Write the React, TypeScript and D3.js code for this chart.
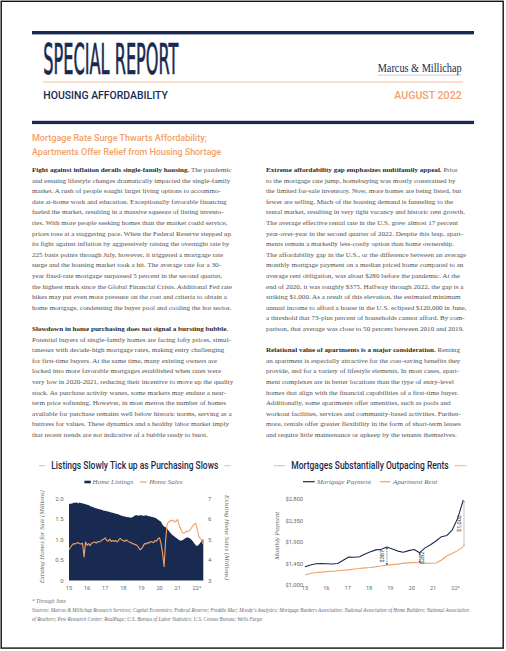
import React from "react";
import * as d3 from "d3";

const NAVY = "#182a50";
const ORANGE = "#f2a068";
const BODY = "#505050";
const BOLD = "#2a2a2a";
const GREY = "#6a6a6a";

// ---------- text content ----------
const headingLines = [
  "Mortgage Rate Surge Thwarts Affordability;",
  "Apartments Offer Relief from Housing Shortage",
];

const leftP1Bold = "Fight against inflation derails single-family housing.";
const leftP1 = [
  " The pandemic",
  "and ensuing lifestyle changes dramatically impacted the single-family",
  "market. A rush of people sought larger living options to accommo-",
  "date at-home work and education. Exceptionally favorable financing",
  "fueled the market, resulting in a massive squeeze of listing invento-",
  "ries. With more people seeking homes than the market could service,",
  "prices rose at a staggering pace. When the Federal Reserve stepped up",
  "its fight against inflation by aggressively raising the overnight rate by",
  "225 basis points through July, however, it triggered a mortgage rate",
  "surge and the housing market took a hit. The average rate for a 30-",
  "year fixed-rate mortgage surpassed 5 percent in the second quarter,",
  "the highest mark since the Global Financial Crisis. Additional Fed rate",
  "hikes may put even more pressure on the cost and criteria to obtain a",
  "home mortgage, condensing the buyer pool and cooling the hot sector.",
];
const leftP2Bold = "Slowdown in home purchasing does not signal a bursting bubble.";
const leftP2 = [
  "",
  "Potential buyers of single-family homes are facing lofty prices, simul-",
  "taneous with decade-high mortgage rates, making entry challenging",
  "for first-time buyers. At the same time, many existing owners are",
  "locked into more favorable mortgages established when rates were",
  "very low in 2020-2021, reducing their incentive to move up the quality",
  "stack. As purchase activity wanes, some markets may endure a near-",
  "term price softening. However, in most metros the number of homes",
  "available for purchase remains well below historic norms, serving as a",
  "buttress for values. These dynamics and a healthy labor market imply",
  "that recent trends are not indicative of a bubble ready to burst.",
];
const rightP1Bold = "Extreme affordability gap emphasizes multifamily appeal.";
const rightP1 = [
  " Prior",
  "to the mortgage rate jump, homebuying was mostly constrained by",
  "the limited for-sale inventory. Now, more homes are being listed, but",
  "fewer are selling. Much of the housing demand is funneling to the",
  "rental market, resulting in very tight vacancy and historic rent growth.",
  "The average effective rental rate in the U.S. grew almost 17 percent",
  "year-over-year in the second quarter of 2022. Despite this leap, apart-",
  "ments remain a markedly less-costly option than home ownership.",
  "The affordability gap in the U.S., or the difference between an average",
  "monthly mortgage payment on a median priced home compared to an",
  "average rent obligation, was about $280 before the pandemic. At the",
  "end of 2020, it was roughly $375. Halfway through 2022, the gap is a",
  "striking $1,000. As a result of this elevation, the estimated minimum",
  "annual income to afford a house in the U.S. eclipsed $120,000 in June,",
  "a threshold that 73-plus percent of households cannot afford. By com-",
  "parison, that average was close to 50 percent between 2010 and 2019.",
];
const rightP2Bold = "Relational value of apartments is a major consideration.";
const rightP2 = [
  " Renting",
  "an apartment is especially attractive for the cost-saving benefits they",
  "provide, and for a variety of lifestyle elements. In most cases, apart-",
  "ment complexes are in better locations than the type of entry-level",
  "homes that align with the financial capabilities of a first-time buyer.",
  "Additionally, some apartments offer amenities, such as pools and",
  "workout facilities, services and community-based activities. Further-",
  "more, rentals offer greater flexibility in the form of short-term leases",
  "and require little maintenance or upkeep by the tenants themselves.",
];

const footnotes = [
  "* Through June",
  "Sources: Marcus & Millichap Research Services; Capital Economics; Federal Reserve; Freddie Mac; Moody's Analytics; Mortgage Bankers Association; National Association of Home Builders; National Association",
  "of Realtors; Pew Research Center; RealPage; U.S. Bureau of Labor Statistics; U.S. Census Bureau; Wells Fargo",
];

// ---------- chart 1 data (monthly, Jan 2015 - Jun 2022) ----------
const yearLabels = ["15", "16", "17", "18", "19", "20", "21", "22*"];
const homeListings = [
  1.86, 1.88, 1.87, 1.9, 1.89, 1.91, 1.88, 1.9, 1.89, 1.88, 1.87, 1.86,
  1.85, 1.84, 1.82, 1.8, 1.79, 1.77, 1.76, 1.75, 1.74, 1.73, 1.72, 1.7,
  1.7, 1.69, 1.68, 1.67, 1.66, 1.65, 1.64, 1.63, 1.62, 1.61, 1.59, 1.58,
  1.57, 1.56, 1.55, 1.54, 1.54, 1.53, 1.54, 1.57, 1.59, 1.59, 1.58, 1.59,
  1.59, 1.58, 1.58, 1.59, 1.58, 1.57, 1.56, 1.55, 1.54, 1.53, 1.51, 1.48,
  1.46, 1.43, 1.36, 1.32, 1.3, 1.27, 1.22, 1.17, 1.13, 1.1, 1.07, 1.04,
  1.01, 0.99, 0.97, 0.98, 1.0, 1.03, 1.05, 1.05, 1.03, 1.0, 0.96, 0.91,
  0.86, 0.84, 0.87, 0.92, 0.97, 1.02,
];
const homeSales = [
  4.5, 4.62, 4.72, 4.8, 4.78, 4.82, 4.85, 4.8, 4.78, 4.82, 4.15, 4.88,
  4.72, 4.8, 4.7, 4.82, 4.85, 4.88, 4.82, 4.9, 4.88, 4.92, 4.98, 5.02,
  5.08, 4.95, 4.92, 5.02, 4.9, 4.95, 4.9, 4.95, 4.88, 4.98, 5.05, 4.98,
  4.95, 4.9, 4.98, 4.92, 4.88, 4.85, 4.8, 4.78, 4.75, 4.72, 4.62, 4.5,
  4.55, 4.65, 4.8, 4.78, 4.85, 4.82, 4.9, 4.88, 4.85, 4.95, 4.92, 5.05,
  5.08, 4.8, 4.35, 3.67, 4.9, 5.75, 5.85, 5.92, 5.9, 5.95, 5.85, 5.9,
  5.98, 5.7, 5.5, 5.35, 5.3, 5.35, 5.4, 5.38, 5.45, 5.55, 5.65, 5.75,
  5.8, 5.5, 5.15, 5.05, 4.95, 4.75,
];
const listingTicks = [0, 0.5, 1, 1.5, 2];
const salesTicks = [3, 4, 5, 6, 7];

// ---------- chart 2 data (quarterly, 2015Q1 - 2022Q2) ----------
const quarters = [
  "15Q1", "15Q2", "15Q3", "15Q4", "16Q1", "16Q2", "16Q3", "16Q4",
  "17Q1", "17Q2", "17Q3", "17Q4", "18Q1", "18Q2", "18Q3", "18Q4",
  "19Q1", "19Q2", "19Q3", "19Q4", "20Q1", "20Q2", "20Q3", "20Q4",
  "21Q1", "21Q2", "21Q3", "21Q4", "22Q1", "22Q2",
];
const mortgagePayment = [
  1385, 1420, 1445, 1448, 1445, 1442, 1450, 1520, 1588, 1582, 1592, 1650,
  1700, 1738, 1752, 1798, 1758, 1712, 1688, 1722, 1745, 1679, 1780, 1845,
  1925, 2015, 2040, 2160, 2410, 2785,
];
const apartmentRent = [
  1210, 1240, 1262, 1270, 1280, 1290, 1300, 1310, 1318, 1335, 1345, 1360,
  1368, 1385, 1398, 1418, 1428, 1438, 1460, 1465, 1470, 1466, 1460, 1456,
  1462, 1525, 1610, 1668, 1722, 1805,
];
const paymentTicks = [1000, 1450, 1900, 2350, 2800];
const gapNotes = [
  { q: "18Q4", label: "$387", side: "left" },
  { q: "20Q2", label: "$282", side: "right" },
  { q: "22Q2", label: "$1,002", side: "left" },
];

const SERIF = "'Liberation Serif', 'DejaVu Serif', serif";
const SANS = "Roboto, 'Liberation Sans', sans-serif";

function Para({ x, y0, idx0, bold, lines }: any) {
  const lh = 10.6;
  return (
    <g fontFamily={SERIF} fontSize={7.1} fill={BODY}>
      {lines.map((l: string, i: number) => (
        <text key={i} x={x} y={y0 + (idx0 + i) * lh}>
          {i === 0 ? (
            <>
              <tspan fontWeight="bold" fill={BOLD}>{bold}</tspan>
              {l ? <tspan>{l}</tspan> : null}
            </>
          ) : (
            l
          )}
        </text>
      ))}
    </g>
  );
}

function ChartTitle({ cx, y, text, len, x0, x1 }: any) {
  const gap = 6;
  return (
    <g>
      <line x1={x0} x2={cx - len / 2 - gap} y1={y} y2={y} stroke={ORANGE} strokeWidth={0.8} />
      <line x1={cx + len / 2 + gap} x2={x1} y1={y} y2={y} stroke={ORANGE} strokeWidth={0.8} />
      <text x={cx} y={y + 3.6} textAnchor="middle" fontFamily={SANS} fontWeight={500} fontSize={10}
        fill={NAVY} textLength={len} lengthAdjust="spacingAndGlyphs">{text}</text>
    </g>
  );
}

function ListingsChart() {
  const x = d3.scaleLinear().domain([0, homeListings.length - 1]).range([69, 203.3]);
  const yL = d3.scaleLinear().domain([0, 2]).range([580.5, 498.5]);
  const yS = d3.scaleLinear().domain([3, 7]).range([580.5, 498.5]);
  const area = d3.area<number>().x((_, i) => x(i)).y0(yL(0)).y1((d) => yL(d));
  const line = d3.line<number>().x((_, i) => x(i)).y((d) => yS(d));
  return (
    <g>
      <ChartTitle cx={134.8} y={465.7} text="Listings Slowly Tick up as Purchasing Slows" len={167} x0={39} x1={230.7} />
      <rect x={84.4} y={480.7} width={6.4} height={2.6} fill={NAVY} />
      <text x={92.6} y={484.4} fontFamily={SERIF} fontStyle="italic" fontSize={7} fill={GREY}>Home Listings</text>
      <line x1={140} x2={146.7} y1={482} y2={482} stroke={ORANGE} strokeWidth={1.2} />
      <text x={149.3} y={484.4} fontFamily={SERIF} fontStyle="italic" fontSize={7} fill={GREY}>Home Sales</text>
      <path d={area(homeListings) || ""} fill={NAVY} />
      <path d={line(homeSales) || ""} fill="none" stroke={ORANGE} strokeWidth={1.1} strokeLinejoin="round" />
      {listingTicks.map((t) => (
        <text key={t} x={63.5} y={yL(t) + 2.1} textAnchor="end" fontFamily={SANS} fontSize={6} fill={GREY}>
          {t === 0 ? "0" : t.toFixed(1)}
        </text>
      ))}
      {salesTicks.map((t) => (
        <text key={t} x={208} y={yS(t) + 2.1} fontFamily={SANS} fontSize={6} fill={GREY}>{t}</text>
      ))}
      {yearLabels.map((l, i) => (
        <text key={l} x={x(i * 12) + (l.length > 2 ? 1.2 : 0)} y={589.6} textAnchor="middle" fontFamily={SANS} fontSize={5.6} fill={GREY}>{l}</text>
      ))}
      <text transform="translate(43.8,536.7) rotate(-90)" textAnchor="middle" fontFamily={SERIF} fontStyle="italic"
        fontSize={7} fill={GREY} textLength={93} lengthAdjust="spacingAndGlyphs">Existing Homes for Sale (Millions)</text>
      <text transform="translate(224.5,537.5) rotate(90)" textAnchor="middle" fontFamily={SERIF} fontStyle="italic"
        fontSize={7} fill={GREY} textLength={85} lengthAdjust="spacingAndGlyphs">Existing Home Sales (Millions)</text>
    </g>
  );
}

function PaymentChart() {
  const x = d3.scalePoint<string>().domain(quarters).range([305, 463.3]);
  const xm = d3.scaleLinear().domain([0, 89]).range([305, 463.3]); // monthly positions for year labels
  const y = d3.scaleLinear().domain([1000, 2800]).range([585, 499.3]);
  const line = d3.line<number>().x((_, i) => x(quarters[i]) as number).y((d) => y(d));
  const fmt = d3.format("$,");
  return (
    <g>
      <ChartTitle cx={370} y={465.7} text="Mortgages Substantially Outpacing Rents" len={157.4} x0={273.7} x1={466.3} />
      <line x1={303} x2={314.7} y1={481.7} y2={481.7} stroke={NAVY} strokeWidth={1.2} />
      <text x={317} y={484.2} fontFamily={SERIF} fontStyle="italic" fontSize={7} fill={GREY}>Mortgage Payment</text>
      <line x1={379.7} x2={390.3} y1={481.7} y2={481.7} stroke={ORANGE} strokeWidth={1.2} />
      <text x={393} y={484.2} fontFamily={SERIF} fontStyle="italic" fontSize={7} fill={GREY}>Apartment Rent</text>
      {paymentTicks.map((t) => (
        <text key={t} x={303} y={y(t) + 2.1} textAnchor="end" fontFamily={SANS} fontSize={5.8} fill={GREY}>{fmt(t)}</text>
      ))}
      {yearLabels.map((l, i) => (
        <text key={l} x={xm(i * 12) + (l.length > 2 ? 1.2 : 0)} y={589.6} textAnchor="middle" fontFamily={SANS} fontSize={5.6} fill={GREY}>{l}</text>
      ))}
      <text transform="translate(279,535.8) rotate(-90)" textAnchor="middle" fontFamily={SERIF} fontStyle="italic"
        fontSize={7} fill={GREY} textLength={48} lengthAdjust="spacingAndGlyphs">Monthly Payment</text>
      <path d={line(apartmentRent) || ""} fill="none" stroke={ORANGE} strokeWidth={1.1} strokeLinejoin="round" />
      <path d={line(mortgagePayment) || ""} fill="none" stroke={NAVY} strokeWidth={1.1} strokeLinejoin="round" />
      {gapNotes.map((g, k) => {
        const i = quarters.indexOf(g.q);
        const xx = (x(g.q) as number) + (k === 2 ? 0.7 : 0);
        const y1 = y(mortgagePayment[i]) + 1.5;
        const y2 = y(apartmentRent[i]) - 1.2;
        const last = k === 2;
        const col = last ? "#9a9a9a" : "#333";
        const tx = g.side === "left" ? xx - 3.2 : xx + 4.6;
        return (
          <g key={g.q}>
            <line x1={xx} x2={xx} y1={y1} y2={y2} stroke={col} strokeWidth={0.6} strokeDasharray={last ? "none" : "1.4,1"} />
            <circle cx={xx} cy={y1} r={0.8} fill={col} />
            <circle cx={xx} cy={y2} r={0.8} fill={col} />
            <text transform={`translate(${tx},${(y1 + y2) / 2}) rotate(-90)`} textAnchor="middle" fontFamily={SANS}
              fontSize={5.6} fill="#333">{g.label}</text>
          </g>
        );
      })}
    </g>
  );
}

export default function App() {
  return (
    <svg width={506} height={651} style={{ position: "absolute", left: 0, top: 0, background: "#fff" }}>
      <rect x={0} y={0} width={506} height={651} fill="#fff" />
      <rect x={1.2} y={1.3} width={502} height={646.8} fill="none" stroke="#111" strokeWidth={1.4} />
      {/* header */}
      <rect x={32} y={31} width={442} height={3.4} fill={NAVY} />
      <text x={43.3} y={74} fontFamily="'Liberation Sans Narrow', 'DejaVu Sans Condensed', 'Liberation Sans', sans-serif"
        fontSize={43} fill={NAVY} stroke={NAVY} strokeWidth={0.7} textLength={135} lengthAdjust="spacingAndGlyphs">SPECIAL REPORT</text>
      <text x={377.7} y={71.7} fontFamily={SERIF} fontSize={11.5} fill={NAVY} textLength={84}
        lengthAdjust="spacingAndGlyphs">Marcus &amp; Millichap</text>
      <line x1={377.7} x2={461.7} y1={75.2} y2={75.2} stroke="#a8b0c0" strokeWidth={0.6} />
      <line x1={43} x2={463} y1={82} y2={82} stroke={ORANGE} strokeWidth={0.7} />
      <text x={43.3} y={99} fontFamily={SANS} fontWeight={500} fontSize={10.2} fill={NAVY} textLength={124.5}
        lengthAdjust="spacingAndGlyphs">HOUSING AFFORDABILITY</text>
      <text x={461.7} y={99} textAnchor="end" fontFamily={SANS} fontWeight={500} fontSize={10.2} fill={ORANGE}
        textLength={67.4} lengthAdjust="spacingAndGlyphs">AUGUST 2022</text>
      <rect x={32} y={120.8} width={442} height={3.3} fill={NAVY} />
      {/* heading */}
      {headingLines.map((l, i) => (
        <text key={i} x={32} y={141.2 + i * 14} fontFamily={SANS} fontWeight={500} fontSize={9.4} fill={ORANGE}
          textLength={i === 0 ? 174.7 : 189} lengthAdjust="spacingAndGlyphs">{l}</text>
      ))}
      {/* body */}
      <Para x={32} y0={172} idx0={0} bold={leftP1Bold} lines={leftP1} />
      <Para x={32} y0={172} idx0={15} bold={leftP2Bold} lines={leftP2} />
      <Para x={266} y0={172} idx0={0} bold={rightP1Bold} lines={rightP1} />
      <Para x={266} y0={172} idx0={17} bold={rightP2Bold} lines={rightP2} />
      <ListingsChart />
      <PaymentChart />
      {/* footnotes */}
      <g fontFamily={SERIF} fontStyle="italic" fontSize={5.4} fill={GREY}>
        <text x={32} y={603}>{footnotes[0]}</text>
        <text x={32} y={612.3} textLength={437} lengthAdjust="spacingAndGlyphs">{footnotes[1]}</text>
        <text x={32} y={620.5} textLength={230} lengthAdjust="spacingAndGlyphs">{footnotes[2]}</text>
      </g>
    </svg>
  );
}
